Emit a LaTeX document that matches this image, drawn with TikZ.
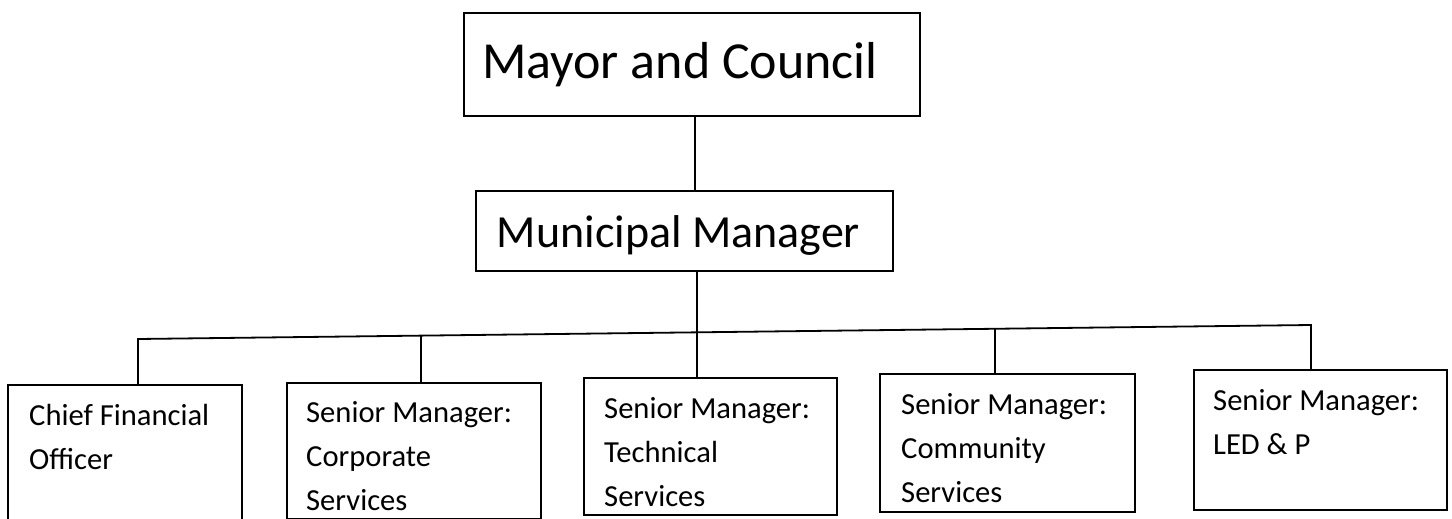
\documentclass[tikz,border=0pt]{standalone}
\usepackage{fontspec}
\setmainfont{Carlito}
\usetikzlibrary{calc}
\begin{document}
\begin{tikzpicture}[x=1pt,y=-1pt,
  box/.style={draw=black, line width=1.8pt, rectangle, anchor=north west, inner sep=0pt},
  link/.style={draw=black, line width=1.8pt},
  bigtxt/.style={font=\fontsize{52}{62}\selectfont, anchor=base, inner sep=0pt},
  midtxt/.style={font=\fontsize{46}{55}\selectfont, anchor=base, inner sep=0pt},
  boxtxt/.style={font=\fontsize{30.6}{44}\selectfont, anchor=north west, inner sep=0pt, align=left}
]
\clip (0,0) rectangle (1452,519);
\fill[white] (0,0) rectangle (1452,519);

% top boxes
\node[box, minimum width=456pt, minimum height=103pt] (mayor) at (463,12) {};
\node[bigtxt] (mayortxt) at (680,78) {Mayor and Council};
\node[box, minimum width=417pt, minimum height=80pt] (mm) at (475,190) {};
\node[midtxt] (mmtxt) at (678.5,247) {Municipal Manager};

% bottom boxes
\node[box, minimum width=234pt, minimum height=160pt] (cfo) at (7,384) {};
\node[box, minimum width=254pt, minimum height=136pt] (corp) at (286,382) {};
\node[box, minimum width=253pt, minimum height=137pt] (tech) at (583,377) {};
\node[box, minimum width=255pt, minimum height=138pt] (comm) at (879,373) {};
\node[box, minimum width=253pt, minimum height=140pt] (led) at (1193,369) {};

\node[boxtxt] (cfotxt) at (29,395) {\rule{0pt}{30pt}Chief Financial\\Officer};
\node[boxtxt] (corptxt) at (306,392) {\rule{0pt}{30pt}Senior Manager:\\Corporate\\Services};
\node[boxtxt] (techtxt) at (604,388) {\rule{0pt}{30pt}Senior Manager:\\Technical\\Services};
\node[boxtxt] (commtxt) at (901,384) {\rule{0pt}{30pt}Senior Manager:\\Community\\Services};
\node[boxtxt] (ledtxt) at (1213,380) {\rule{0pt}{30pt}Senior Manager:\\LED \& P};

% connectors
\coordinate (c1) at (695,0);
\coordinate (c2) at (697,0);
\coordinate (busL) at (138,339);
\coordinate (busR) at (1311,325);
\draw[link] (mayor.south -| c1) -- (mm.north -| c1);
\draw[link] (mm.south -| c2) -- (tech.north -| c2);
\draw[link, line cap=rect] (busL) -- (busR);
\draw[link] (cfo.north -| busL) -- (busL);
\draw[link] ([xshift=135pt]corp.north west) -- ($(busL)!0.2413!(busR)$);
\draw[link] ([xshift=116pt]comm.north west) -- ($(busL)!0.7306!(busR)$);
\draw[link] (led.north -| busR) -- (busR);
\end{tikzpicture}
\end{document}
